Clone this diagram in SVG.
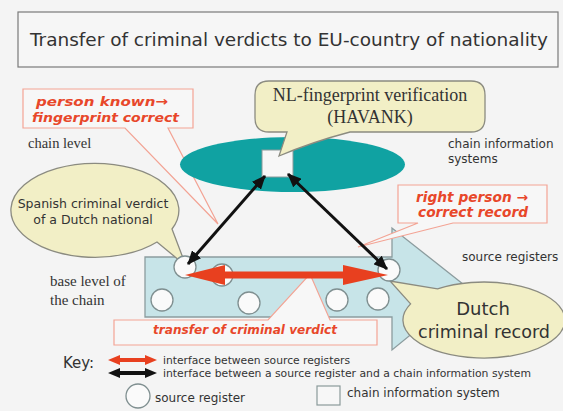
<svg xmlns="http://www.w3.org/2000/svg" width="563" height="411" viewBox="0 0 563 411">
  <defs>
    <style>
      .sans { font-family: "DejaVu Sans", Verdana, sans-serif; fill: #333; }
      .serif { font-family: "Liberation Serif", "Times New Roman", serif; fill: #333; }
      .note { font-family: "DejaVu Sans", Verdana, sans-serif; font-weight: bold; font-style: italic; fill: #e8472a; }
      .callout { fill: #f7f7f7; stroke: #f3a394; stroke-width: 1.2; }
      .bubble { fill: #f2efc6; stroke: #8b8b80; stroke-width: 1.3; }
      .reg { fill: #fafafa; stroke: #7f8f90; stroke-width: 1.3; }
      .link { stroke: #111; stroke-width: 3; fill: none; }
      .redarrow { fill: #e8401f; }
    </style>
    <marker id="ah" viewBox="0 0 14 12" refX="13" refY="6" markerWidth="14" markerHeight="12" markerUnits="userSpaceOnUse" orient="auto-start-reverse">
      <path d="M0,0 L14,6 L0,12 Z" fill="#111"/>
    </marker>
  </defs>

  <!-- page -->
  <rect x="0" y="0" width="563" height="411" fill="#f4f4f4"/>

  <!-- heading -->
  <g id="title">
    <rect x="18" y="12" width="540" height="55" fill="#f6f6f6" stroke="#7a7a7a" stroke-width="1.2"/>
    <text class="sans" x="30" y="46" font-size="17" textLength="518" lengthAdjust="spacingAndGlyphs">Transfer of criminal verdicts to EU-country of nationality</text>
  </g>

  <!-- level labels -->
  <g id="labels">
    <text class="serif" x="28" y="148" font-size="14.5">chain level</text>
    <text class="serif" x="50" y="286" font-size="15">base level of</text>
    <text class="serif" x="50" y="305" font-size="15">the chain</text>
    <text class="sans" x="448" y="148" font-size="12">chain information</text>
    <text class="sans" x="448" y="163" font-size="12">systems</text>
    <text class="sans" x="462" y="261" font-size="12">source registers</text>
  </g>

  <!-- note: person known -->
  <g id="note-person-known">
    <path class="callout" d="M23,89 H193 V128 H168 L218,224 L125,128 H23 Z"/>
    <text class="note" x="36" y="106" font-size="13" textLength="132" lengthAdjust="spacingAndGlyphs">person known→</text>
    <text class="note" x="32" y="122" font-size="13" textLength="147" lengthAdjust="spacingAndGlyphs">fingerprint correct</text>
  </g>

  <!-- chain information systems -->
  <g id="chain-level">
    <ellipse cx="292.5" cy="164.5" rx="112.5" ry="27.5" fill="#10a2a2"/>
  </g>
  <g id="havank-system">
    <rect x="262" y="150" width="31" height="27" fill="#f7f7f7" stroke="#8a9a9a" stroke-width="1"/>
  </g>

  <!-- source registers band -->
  <g id="source-band">
    <path d="M145,257 H392 V228 L468,288 L392,350 V317 H145 Z" fill="#c7e4e8" stroke="#8c9c9e" stroke-width="1.3"/>
  </g>

  <!-- note: right person -->
  <g id="note-right-person">
    <path class="callout" d="M398,185 H547 V223 H453 L358,247 L418,223 H398 Z"/>
    <text class="note" x="416" y="202" font-size="13.5" textLength="112" lengthAdjust="spacingAndGlyphs">right person →</text>
    <text class="note" x="418" y="217" font-size="13.5" textLength="110" lengthAdjust="spacingAndGlyphs">correct record</text>
  </g>

  <!-- note: transfer -->
  <g id="note-transfer">
    <path class="callout" d="M114,320 H268 L310,274 L330,320 H377 V345 H114 Z"/>
    <text class="note" x="153" y="334" font-size="12" textLength="184" lengthAdjust="spacingAndGlyphs">transfer of criminal verdict</text>
  </g>

  <!-- speech bubbles -->
  <g id="bubble-havank">
    <path class="bubble" d="M269,81 H471 Q485,81 485,95 V118 Q485,132 471,132 H350 Q312,142 279,156 L287,132 H269 Q255,132 255,118 V95 Q255,81 269,81 Z"/>
    <text class="serif" x="370" y="101" font-size="18" text-anchor="middle">NL-fingerprint verification</text>
    <text class="serif" x="370" y="123" font-size="18" text-anchor="middle">(HAVANK)</text>
  </g>
  <g id="bubble-spanish">
    <path class="bubble" d="M172,229 L186,266 L157,242 A84,47 0 1 1 172,229 Z"/>
    <text class="sans" x="93" y="208" font-size="12.5" text-anchor="middle">Spanish criminal verdict</text>
    <text class="sans" x="93" y="224" font-size="12.5" text-anchor="middle">of a Dutch national</text>
  </g>
  <g id="bubble-dutch">
    <path class="bubble" d="M410.6,303.9 L390,281 L437.5,288.9 A81,38 0 1 1 410.6,303.9 Z"/>
    <text class="sans" x="483" y="315" font-size="18" text-anchor="middle">Dutch</text>
    <text class="sans" x="418" y="338" font-size="18" textLength="132" lengthAdjust="spacingAndGlyphs">criminal record</text>
  </g>

  <!-- source register nodes -->
  <g id="registers">
    <circle id="reg-spain" class="reg" cx="185" cy="267" r="11"/>
    <circle class="reg" cx="222" cy="275" r="11"/>
    <circle class="reg" cx="162" cy="300" r="11"/>
    <circle class="reg" cx="249" cy="303" r="11"/>
    <circle class="reg" cx="337" cy="300" r="11"/>
    <circle class="reg" cx="378" cy="299" r="11"/>
    <circle id="reg-nl" class="reg" cx="389" cy="270" r="11"/>
  </g>

  <!-- interfaces -->
  <g id="connectors">
    <path class="redarrow" d="M185,275 L225,265 V271.5 H343 V265 L388,275 L343,285 V278.5 H225 V285 Z"/>
    <line class="link" x1="188" y1="264" x2="265" y2="176" marker-start="url(#ah)" marker-end="url(#ah)"/>
    <line class="link" x1="387" y1="269" x2="288" y2="174" marker-start="url(#ah)" marker-end="url(#ah)"/>
  </g>

  <!-- key -->
  <g id="key">
    <text class="sans" x="63" y="368" font-size="15">Key:</text>
    <path class="redarrow" d="M108,360 L120,355 V358 H145 V355 L157,360 L145,365 V362 H120 V365 Z"/>
    <path d="M108,373 L120,368 V371 H145 V368 L157,373 L145,378 V375 H120 V378 Z" fill="#111"/>
    <text class="sans" x="163" y="364" font-size="10.5" textLength="187" lengthAdjust="spacingAndGlyphs">interface between source registers</text>
    <text class="sans" x="163" y="377" font-size="10.5" textLength="368" lengthAdjust="spacingAndGlyphs">interface between a source register and a chain information system</text>
    <circle class="reg" cx="138" cy="396" r="12"/>
    <text class="sans" x="155" y="402" font-size="12">source register</text>
    <rect x="317" y="386" width="23" height="19" fill="#f7f7f7" stroke="#8a9a9a" stroke-width="1.2"/>
    <text class="sans" x="347" y="397" font-size="12">chain information system</text>
  </g>
</svg>
